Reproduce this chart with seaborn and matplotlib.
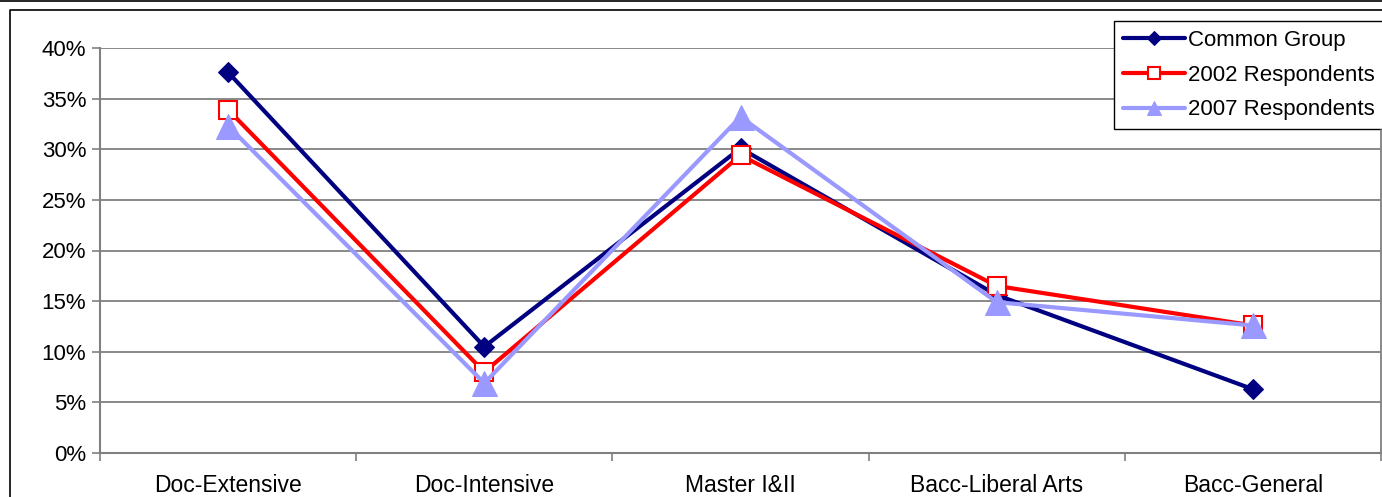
import matplotlib
matplotlib.use("Agg")
import matplotlib.pyplot as plt
from matplotlib.lines import Line2D
import seaborn as sns
import pandas as pd
import numpy as np

categories = ["Doc-Extensive", "Doc-Intensive", "Master I&II", "Bacc-Liberal Arts", "Bacc-General"]
common_group = [37.6, 10.5, 30.1, 15.6, 6.3]
respondents_2002 = [33.9, 8.0, 29.4, 16.5, 12.6]
respondents_2007 = [32.3, 6.9, 33.2, 14.9, 12.6]
y_ticks = [0, 5, 10, 15, 20, 25, 30, 35, 40]

series = [
    ("Common Group", common_group, dict(color="#000080", marker="D", markersize=10,
                                        markerfacecolor="#000080", markeredgecolor="#000080")),
    ("2002 Respondents", respondents_2002, dict(color="#FF0000", marker="s", markersize=13,
                                                markerfacecolor="white", markeredgecolor="#FF0000",
                                                markeredgewidth=1.5)),
    ("2007 Respondents", respondents_2007, dict(color="#9999FF", marker="^", markersize=18,
                                                markerfacecolor="#9999FF", markeredgecolor="#9999FF")),
]
legend_marker_sizes = [7, 8, 10]

sns.set_style("white")
plt.rcParams["font.family"] = ["Liberation Sans", "DejaVu Sans"]
plt.rcParams["text.color"] = "black"
plt.rcParams["xtick.color"] = "black"
plt.rcParams["ytick.color"] = "black"

fig = plt.figure(figsize=(13.82, 4.97), dpi=100)
ax = fig.add_axes([100 / 1382, 44 / 497, 1281 / 1382, 405 / 497])

pos = np.arange(len(categories))
for name, vals, style in series:
    df = pd.DataFrame({"pos": pos, "value": vals})
    sns.lineplot(data=df, x="pos", y="value", ax=ax, linewidth=3, label=name, **style)

ax.set_xlim(-0.5, len(categories) - 0.5)
ax.set_ylim(0, 40)
ax.set_yticks(y_ticks)
ax.set_yticklabels([f"{t}%" for t in y_ticks], fontsize=16)
ax.set_xticks(pos)
ax.set_xticklabels(categories, fontsize=16.5)
ax.set_xticks(np.arange(len(categories) + 1) - 0.5, minor=True)
ax.set_xlabel("")
ax.set_ylabel("")

for t in y_ticks[1:]:
    ax.axhline(t, color="#808080", linewidth=1.3, zorder=0)

for side in ["top", "right"]:
    ax.spines[side].set_visible(False)
ax.spines["left"].set_color("#808080")
ax.spines["left"].set_linewidth(1.5)
ax.spines["bottom"].set_color("#808080")
ax.spines["bottom"].set_linewidth(1.5)

ax.tick_params(axis="y", which="major", direction="out", length=6, width=1.2, color="#808080",
               left=True, pad=4, labelcolor="black")
ax.tick_params(axis="x", which="major", length=0, pad=15, labelcolor="black")
ax.tick_params(axis="x", which="minor", direction="out", length=6, width=1.2, color="#808080",
               bottom=True)

leg = ax.legend(loc="upper left", bbox_to_anchor=(1114 / 1382, 1 - 21 / 497),
                bbox_transform=fig.transFigure, fontsize=16, frameon=True, fancybox=False,
                edgecolor="#000000", framealpha=1, borderpad=0.4, labelspacing=0.62,
                handlelength=2.8, handletextpad=0.15, borderaxespad=0)
leg.get_frame().set_linewidth(1.0)
for handle, ms in zip(leg.legend_handles, legend_marker_sizes):
    handle.set_markersize(ms)
for text in leg.get_texts():
    text.set_color("black")

# outer chart frame
fig.add_artist(Line2D([0, 1], [1 - 0.5 / 497, 1 - 0.5 / 497], transform=fig.transFigure,
                      color="black", linewidth=1.2))
fig.add_artist(Line2D([10 / 1382, 10 / 1382, 1], [0, 1 - 9.5 / 497, 1 - 9.5 / 497],
                      transform=fig.transFigure, color="black", linewidth=1.2))
fig.add_artist(Line2D([1380.5 / 1382, 1380.5 / 1382], [44 / 497, 1 - 130 / 497],
                      transform=fig.transFigure, color="#808080", linewidth=1.3))

fig.savefig("out.png", dpi=100)
